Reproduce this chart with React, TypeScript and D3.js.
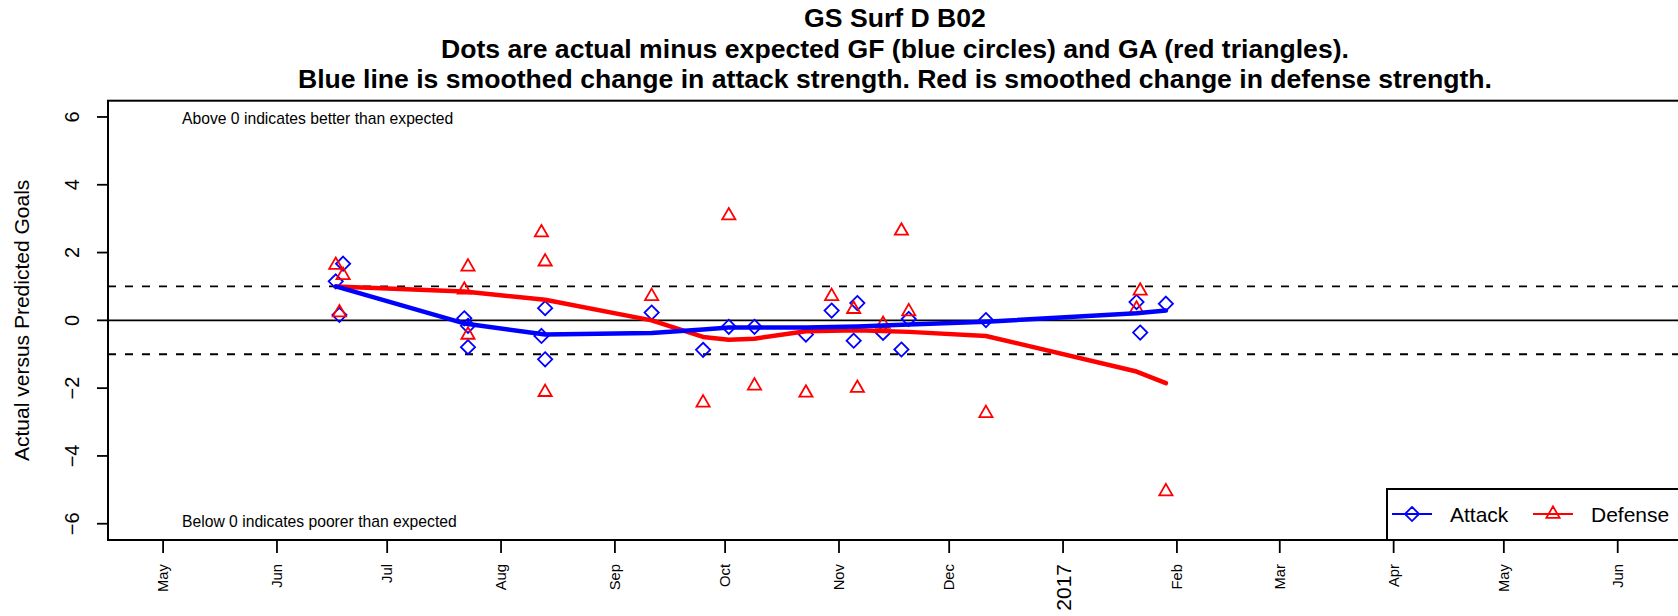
import React, { useEffect, useRef } from "react";
import * as d3 from "d3";

// game dates and actual minus expected goals
const gameDates = [
  "2016-06-17", "2016-06-18", "2016-06-19", "2016-07-22", "2016-07-23", "2016-07-23",
  "2016-08-12", "2016-08-13", "2016-08-13", "2016-09-11", "2016-09-25", "2016-10-02",
  "2016-10-09", "2016-10-23", "2016-10-30", "2016-11-05", "2016-11-06", "2016-11-13",
  "2016-11-18", "2016-11-20", "2016-12-11", "2017-01-21", "2017-01-22", "2017-01-29",
];
const gfDiff = [
  1.15, 0.16, 1.67, 0.06, -0.16, -0.79, -0.46, 0.36, -1.15, 0.23, -0.87, -0.19,
  -0.19, -0.42, 0.29, -0.6, 0.51, -0.37, -0.86, 0.04, 0.01, 0.54, -0.36, 0.49,
];
const gaDiff = [
  1.63, 0.23, 1.33, 0.9, 1.58, -0.43, 2.59, 1.73, -2.12, 0.71, -2.43, 3.09,
  -1.93, -2.14, 0.71, 0.33, -2.0, -0.11, 2.64, 0.26, -2.74, 0.34, 0.87, -5.05,
];

// smoothed strength changes
const smoothDates = [
  "2016-06-17", "2016-07-22", "2016-08-13", "2016-09-11", "2016-09-25", "2016-10-02",
  "2016-10-09", "2016-10-23", "2016-11-06", "2016-11-20", "2016-12-11", "2017-01-21",
  "2017-01-29",
];
const attackSmooth = [1.0, -0.09, -0.42, -0.37, -0.27, -0.21, -0.21, -0.21, -0.18, -0.12, -0.04, 0.21, 0.29];
const defenseSmooth = [1.0, 0.85, 0.61, 0.0, -0.49, -0.57, -0.54, -0.32, -0.29, -0.34, -0.46, -1.51, -1.85];

const monthTicks = [
  "2016-05-01", "2016-06-01", "2016-07-01", "2016-08-01", "2016-09-01", "2016-10-01",
  "2016-11-01", "2016-12-01", "2017-01-01", "2017-02-01", "2017-03-01", "2017-04-01",
  "2017-05-01", "2017-06-01",
];
const monthLabels = ["May", "Jun", "Jul", "Aug", "Sep", "Oct", "Nov", "Dec", "2017", "Feb", "Mar", "Apr", "May", "Jun"];
const yTicks = [-6, -4, -2, 0, 2, 4, 6];

const titleLines = [
  "GS Surf D B02",
  "Dots are actual minus expected GF (blue circles) and GA (red triangles).",
  "Blue line is smoothed change in attack strength. Red is smoothed change in defense strength.",
];

const FONT = "'Liberation Sans', Arial, Helvetica, sans-serif";

const App = () => {
  const svgRef = useRef(null);

  useEffect(() => {
    const svg = d3.select(svgRef.current);
    svg.selectAll("*").remove();

    const width = 1678;
    const height = 616;
    const box = { left: 108, right: 1682, top: 100.7, bottom: 540 };
    const parse = d3.utcParse("%Y-%m-%d");

    const x = d3
      .scaleUtc()
      .domain([new Date(Date.UTC(2016, 3, 16)), new Date(Date.UTC(2017, 5, 18, 12))])
      .range([box.left, box.right]);
    const y = d3.scaleLinear().domain([-6.48, 6.48]).range([box.bottom, box.top]);

    svg.append("rect").attr("width", width).attr("height", height).attr("fill", "white");

    // 标题
    svg.selectAll(".title")
      .data(titleLines)
      .enter()
      .append("text")
      .attr("x", (box.left + box.right) / 2)
      .attr("y", (d, i) => 27 + i * 30.7)
      .attr("text-anchor", "middle")
      .attr("font-family", FONT)
      .attr("font-weight", "bold")
      .attr("font-size", 26.6)
      .text((d) => d);

    // 参考线
    svg.append("line")
      .attr("x1", box.left).attr("x2", box.right)
      .attr("y1", y(0)).attr("y2", y(0))
      .attr("stroke", "black").attr("stroke-width", 1.8);
    [1, -1].forEach((v) => {
      svg.append("line")
        .attr("x1", box.left).attr("x2", box.right)
        .attr("y1", y(v)).attr("y2", y(v))
        .attr("stroke", "black").attr("stroke-width", 1.8)
        .attr("stroke-dasharray", "8,9");
    });

    const games = gameDates.map((d, i) => ({ date: parse(d), gf: gfDiff[i], ga: gaDiff[i] }));

    const diamond = (h) => `M0,${-h}L${h},0L0,${h}L${-h},0Z`;
    const triangle = (r) => `M0,${-r * 1.555}L${r * 1.347},${r * 0.778}L${-r * 1.347},${r * 0.778}Z`;

    // 数据点
    svg.selectAll(".gf")
      .data(games)
      .enter()
      .append("path")
      .attr("transform", (d) => `translate(${x(d.date)},${y(d.gf)})`)
      .attr("d", diamond(7.1))
      .attr("fill", "none")
      .attr("stroke", "blue")
      .attr("stroke-width", 1.8);
    svg.selectAll(".ga")
      .data(games)
      .enter()
      .append("path")
      .attr("transform", (d) => `translate(${x(d.date)},${y(d.ga)})`)
      .attr("d", triangle(4.9))
      .attr("fill", "none")
      .attr("stroke", "red")
      .attr("stroke-width", 1.8);

    // 平滑线
    const smooth = smoothDates.map((d, i) => ({ date: parse(d), a: attackSmooth[i], dfn: defenseSmooth[i] }));
    const lineA = d3.line().x((d) => x(d.date)).y((d) => y(d.a));
    const lineD = d3.line().x((d) => x(d.date)).y((d) => y(d.dfn));
    svg.append("path").datum(smooth).attr("d", lineD)
      .attr("fill", "none").attr("stroke", "red").attr("stroke-width", 4.5)
      .attr("stroke-linecap", "round").attr("stroke-linejoin", "round");
    svg.append("path").datum(smooth).attr("d", lineA)
      .attr("fill", "none").attr("stroke", "blue").attr("stroke-width", 4.5)
      .attr("stroke-linecap", "round").attr("stroke-linejoin", "round");

    // 注释
    svg.append("text")
      .attr("x", 182).attr("y", y(6) + 6.6)
      .attr("font-family", FONT).attr("font-size", 15.7)
      .text("Above 0 indicates better than expected");
    svg.append("text")
      .attr("x", 182).attr("y", y(-6) + 3.6)
      .attr("font-family", FONT).attr("font-size", 15.7)
      .text("Below 0 indicates poorer than expected");

    // 边框
    svg.append("rect")
      .attr("x", box.left).attr("y", box.top)
      .attr("width", box.right - box.left).attr("height", box.bottom - box.top)
      .attr("fill", "none").attr("stroke", "black").attr("stroke-width", 2);

    // 纵坐标
    const yAxis = svg.append("g");
    yAxis.selectAll("line")
      .data(yTicks)
      .enter()
      .append("line")
      .attr("x1", box.left - 11).attr("x2", box.left)
      .attr("y1", (d) => y(d)).attr("y2", (d) => y(d))
      .attr("stroke", "black").attr("stroke-width", 1.8);
    yAxis.selectAll("text")
      .data(yTicks)
      .enter()
      .append("text")
      .attr("transform", (d) => `translate(79,${y(d)}) rotate(-90)`)
      .attr("text-anchor", "middle")
      .attr("font-family", FONT).attr("font-size", 20)
      .text((d) => (d < 0 ? `\u2212${-d}` : `${d}`));
    svg.append("text")
      .attr("transform", `translate(28.5,${(box.top + box.bottom) / 2}) rotate(-90)`)
      .attr("text-anchor", "middle")
      .attr("font-family", FONT).attr("font-size", 21)
      .text("Actual versus Predicted Goals");

    // 横坐标
    const months = monthTicks.map((d, i) => ({ date: parse(d), label: monthLabels[i] }));
    const xAxis = svg.append("g");
    xAxis.selectAll("line")
      .data(months)
      .enter()
      .append("line")
      .attr("x1", (d) => x(d.date)).attr("x2", (d) => x(d.date))
      .attr("y1", box.bottom).attr("y2", box.bottom + 13)
      .attr("stroke", "black").attr("stroke-width", 1.8);
    xAxis.selectAll("text")
      .data(months)
      .enter()
      .append("text")
      .attr("transform", (d) => {
        const big = d.label === "2017";
        return `translate(${x(d.date) + (big ? 7.5 : 5.2)},564) rotate(-90)`;
      })
      .attr("text-anchor", "end")
      .attr("font-family", FONT)
      .attr("font-size", (d) => (d.label === "2017" ? 21 : 14.8))
      .text((d) => d.label);

    // 图例
    const legend = svg.append("g");
    legend.append("rect")
      .attr("x", 1387).attr("y", 489)
      .attr("width", 320).attr("height", box.bottom - 489)
      .attr("fill", "white").attr("stroke", "black").attr("stroke-width", 2);
    const items = [
      { label: "Attack", color: "blue", shape: diamond(7.1), x0: 1392 },
      { label: "Defense", color: "red", shape: triangle(4.9), x0: 1533 },
    ];
    items.forEach((it) => {
      legend.append("line")
        .attr("x1", it.x0).attr("x2", it.x0 + 40)
        .attr("y1", 514).attr("y2", 514)
        .attr("stroke", it.color).attr("stroke-width", 1.8);
      legend.append("path")
        .attr("transform", `translate(${it.x0 + 20},514)`)
        .attr("d", it.shape)
        .attr("fill", "none").attr("stroke", it.color).attr("stroke-width", 1.8);
      legend.append("text")
        .attr("x", it.x0 + 58).attr("y", 521.5)
        .attr("font-family", FONT).attr("font-size", 21)
        .text(it.label);
    });
  }, []);

  return (
    <div style={{ position: "absolute", left: 0, top: 0 }}>
      <svg ref={svgRef} width={1678} height={616} style={{ display: "block" }}></svg>
    </div>
  );
};

export default App;
